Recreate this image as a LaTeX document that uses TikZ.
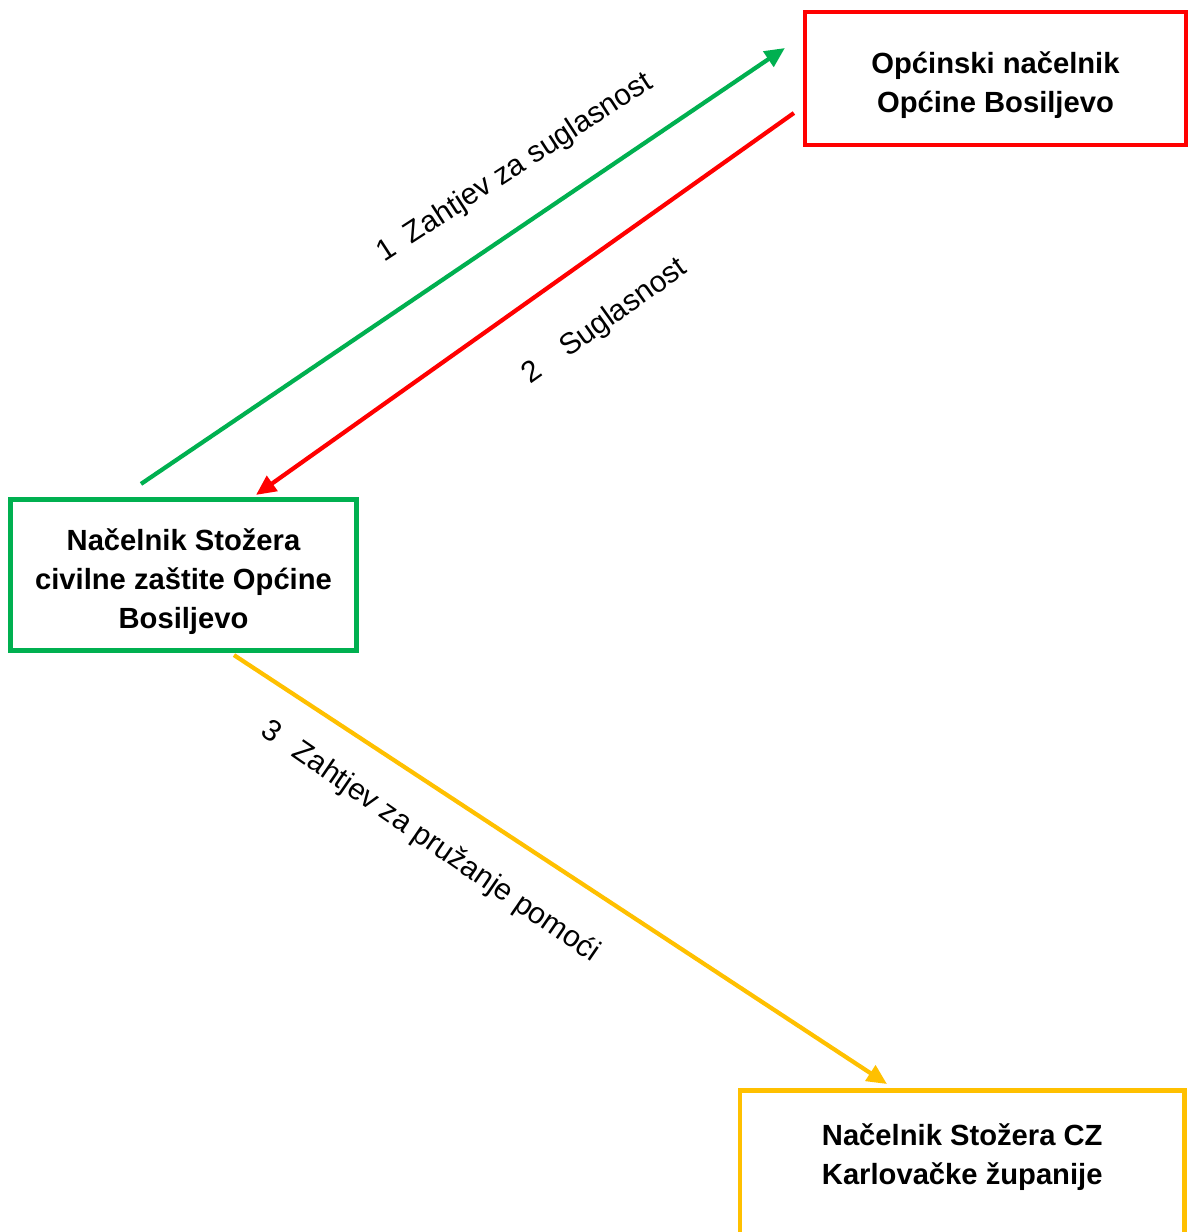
\documentclass[tikz,border=0pt]{standalone}
\usepackage{fontspec}
\setmainfont{Liberation Sans}
\usepackage{xcolor}
\usetikzlibrary{arrows.meta, calc, positioning}

\definecolor{zelena}{HTML}{00B050}
\definecolor{crvena}{HTML}{FF0000}
\definecolor{zuta}{HTML}{FFC000}

% extra room above the first line of a box
\newcommand{\gornjiRed}{\rule{0pt}{10pt}}

\tikzset{
    kutija/.style={line width=1.3pt, text=black, align=center, inner sep=0pt,
        font=\fontsize{8.3}{11.1}\selectfont\bfseries},
    veza/.style={line width=1.2pt, -{Triangle[length=2mm, width=1.8mm]}},
    oznaka/.style={inner sep=0pt, font=\fontsize{8.5}{10}\selectfont},
}

\begin{document}
\begin{tikzpicture}[x=0.01cm, y=-0.01cm]
                        \useasboundingbox (0, 0) rectangle (1188, 1232);

                        \node[kutija, draw=crvena, minimum width=3.81cm, minimum height=1.33cm] (nacelnik) at (995.5, 78.5) {\gornjiRed Općinski načelnik\\Općine Bosiljevo};
                        \node[kutija, draw=zelena, minimum width=3.46cm, minimum height=1.505cm] (stozer) at (183.5, 575) {\gornjiRed Načelnik Stožera\\civilne zaštite Općine\\Bosiljevo};
                        \node[kutija, draw=zuta, anchor=north, minimum width=4.445cm, minimum height=1.65cm] (zupanija) at (962.25, 1088.2) {\gornjiRed Načelnik Stožera CZ\\Karlovačke županije\\\strut};

                        \draw[veza, zelena] ($(stozer.north)+(-42.5, -13.5)$) -- ($(nacelnik.west)+(-17.7, -30.5)$);
                        \draw[veza, crvena] ($(nacelnik.west)+(-8.7, 34.5)$) -- ($(stozer.north)+(72.5, -2.5)$);
                        \draw[veza, zuta] ($(stozer.south)+(50.5, 2.5)$) -- ($(zupanija.north)+(-75.25, -4.2)$);

                        \node[oznaka, rotate=33] (oznaka1) at (515, 168) {1~~Zahtjev za suglasnost};
                        \node[oznaka, rotate=35.5] (oznaka2) at (605, 322) {2\hspace{1em}Suglasnost};
                        \node[oznaka, rotate=-34.5] (oznaka3) at (430, 842) {3\hspace{0.7em}Zahtjev za pružanje pomoći};
\end{tikzpicture}
\end{document}
